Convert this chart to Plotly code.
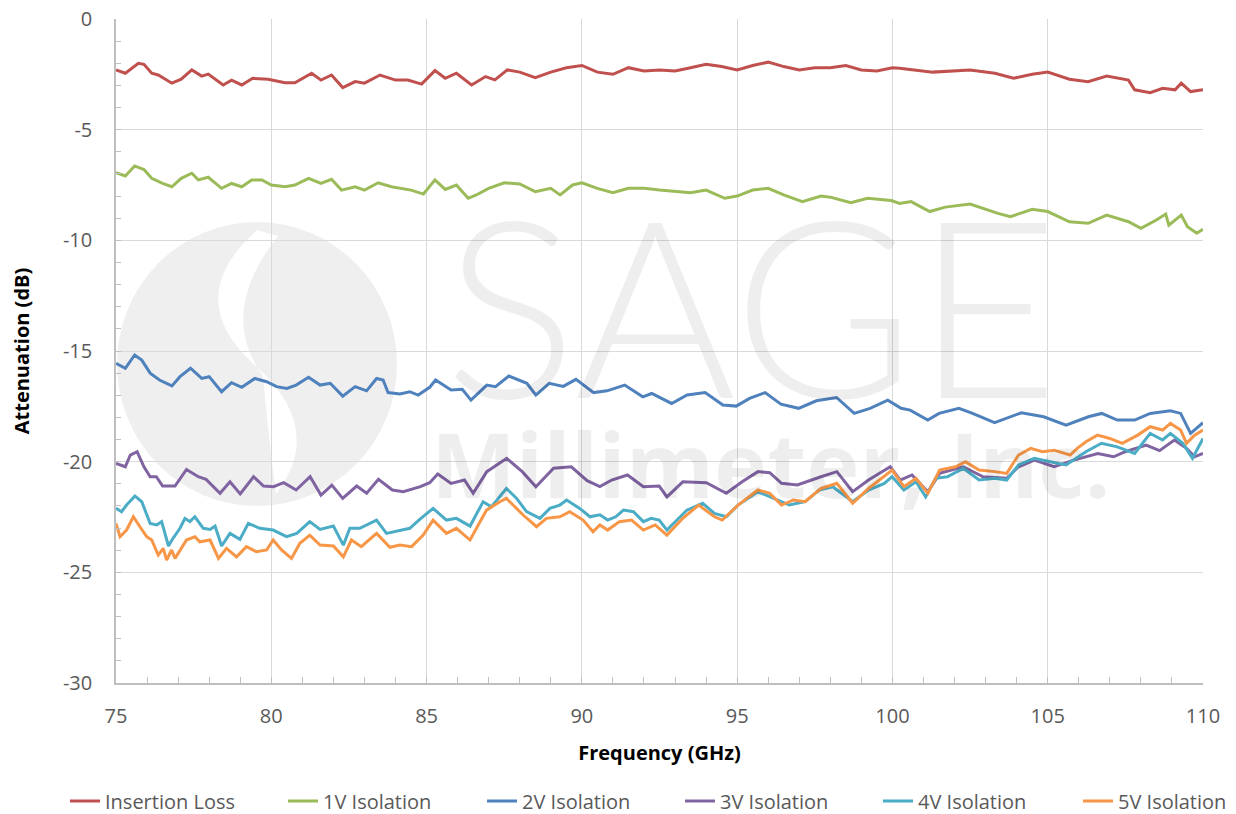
import plotly.graph_objects as go

# ---------------- data ----------------
il_f = [75.0, 75.3, 75.72, 75.9, 76.15, 76.36, 76.8, 77.1, 77.44, 77.76, 77.97, 78.45, 78.72, 79.05, 79.4, 79.9,
        80.44, 80.76, 81.3, 81.6, 81.94, 82.3, 82.7, 83.0, 83.5, 84.0, 84.4, 84.84, 85.27, 85.6, 85.96, 86.45,
        86.9, 87.2, 87.6, 88.0, 88.5, 89.0, 89.5, 90.0, 90.5, 91.0, 91.5, 92.0, 92.5, 93.0, 93.5, 94.0, 94.5,
        95.0, 95.5, 96.0, 96.5, 97.0, 97.5, 98.0, 98.5, 99.0, 99.5, 100.0, 100.23, 100.6, 101.3, 102.5, 103.3,
        103.9, 104.5, 105.0, 105.7, 106.3, 106.9, 107.6, 107.8, 108.3, 108.7, 109.1, 109.3, 109.6, 110.0]
il_db = [-2.3, -2.45, -2.0, -2.05, -2.45, -2.53, -2.9, -2.72, -2.3, -2.58, -2.49, -2.98, -2.76, -2.98, -2.68, -2.72,
         -2.88, -2.88, -2.45, -2.76, -2.53, -3.1, -2.83, -2.9, -2.53, -2.76, -2.76, -2.94, -2.33, -2.68, -2.45, -2.98,
         -2.6, -2.75, -2.3, -2.4, -2.65, -2.4, -2.2, -2.1, -2.4, -2.5, -2.2, -2.35, -2.3, -2.35, -2.2, -2.05, -2.15,
         -2.3, -2.1, -1.95, -2.15, -2.3, -2.2, -2.2, -2.1, -2.3, -2.35, -2.2, -2.23, -2.3, -2.4, -2.3, -2.45,
         -2.68, -2.5, -2.4, -2.72, -2.83, -2.58, -2.76, -3.2, -3.33, -3.13, -3.2, -2.9, -3.28, -3.2]

v1_f = [75.0, 75.3, 75.6, 75.9, 76.15, 76.5, 76.8, 77.1, 77.44, 77.65, 77.97, 78.4, 78.72, 79.05, 79.37, 79.7,
        80.0, 80.44, 80.76, 81.2, 81.6, 81.94, 82.26, 82.7, 83.0, 83.44, 83.87, 84.2, 84.5, 84.9, 85.27, 85.6,
        85.96, 86.34, 86.6, 87.0, 87.5, 88.0, 88.5, 89.0, 89.3, 89.7, 90.0, 90.5, 91.0, 91.5, 92.0, 92.5, 93.0,
        93.5, 94.0, 94.6, 95.0, 95.5, 96.0, 96.5, 97.1, 97.7, 98.0, 98.66, 99.2, 99.96, 100.23, 100.6, 101.2,
        101.7, 102.5, 103.4, 103.8, 104.5, 105.0, 105.7, 106.3, 106.9, 107.6, 108.0, 108.5, 108.8, 108.9, 109.3,
        109.5, 109.8, 110.0]
v1_db = [-6.94, -7.09, -6.64, -6.8, -7.2, -7.43, -7.58, -7.2, -6.97, -7.27, -7.15, -7.65, -7.43, -7.58, -7.27, -7.27,
         -7.5, -7.58, -7.5, -7.2, -7.43, -7.24, -7.73, -7.58, -7.73, -7.4, -7.58, -7.65, -7.73, -7.91, -7.27, -7.7,
         -7.5, -8.1, -7.95, -7.65, -7.4, -7.45, -7.8, -7.65, -7.95, -7.5, -7.4, -7.65, -7.85, -7.65, -7.65, -7.73, -7.8,
         -7.85, -7.73, -8.1, -8.0, -7.73, -7.65, -7.95, -8.25, -8.0, -8.05, -8.3, -8.1, -8.2, -8.33, -8.25, -8.7,
         -8.5, -8.36, -8.78, -8.93, -8.6, -8.7, -9.16, -9.23, -8.86, -9.16, -9.46, -9.08, -8.81, -9.31, -8.86,
         -9.38, -9.68, -9.5]

v2_f = [75.0, 75.3, 75.6, 75.83, 76.1, 76.4, 76.8, 77.06, 77.4, 77.76, 78.0, 78.4, 78.72, 79.05, 79.47, 79.85,
        80.17, 80.5, 80.8, 81.2, 81.57, 81.9, 82.3, 82.7, 83.07, 83.39, 83.6, 83.76, 84.14, 84.46, 84.73, 85.1,
        85.29, 85.79, 86.15, 86.43, 86.94, 87.22, 87.65, 88.23, 88.52, 88.95, 89.4, 89.81, 90.38, 90.81, 91.38,
        91.96, 92.25, 92.89, 93.39, 93.97, 94.54, 94.97, 95.4, 95.9, 96.41, 96.98, 97.55, 98.2, 98.77, 99.28,
        99.85, 100.28, 100.57, 101.14, 101.5, 102.14, 102.58, 103.29, 104.15, 104.87, 105.59, 106.31, 106.74,
        107.24, 107.8, 108.3, 108.95, 109.28, 109.6, 110.0]
v2_db = [-15.56, -15.78, -15.18, -15.41, -16.0, -16.31, -16.58, -16.16, -15.78, -16.24, -16.16, -16.84, -16.43,
         -16.64, -16.24, -16.39, -16.61, -16.69, -16.54, -16.19, -16.54, -16.46, -17.04, -16.61, -16.8, -16.24,
         -16.31, -16.88, -16.94, -16.84, -16.99, -16.64, -16.31, -16.76, -16.73, -17.22, -16.54, -16.61, -16.13,
         -16.46, -16.99, -16.46, -16.6, -16.28, -16.88, -16.8, -16.54, -17.07, -16.92, -17.37, -16.99, -16.88,
         -17.44, -17.49, -17.14, -16.88, -17.4, -17.59, -17.25, -17.1, -17.82, -17.59, -17.22, -17.59, -17.67,
         -18.12, -17.82, -17.59, -17.82, -18.24, -17.79, -17.97, -18.35, -17.97, -17.82, -18.12, -18.12, -17.82,
         -17.7, -17.82, -18.72, -18.24]

v3_f = [75.0, 75.3, 75.46, 75.68, 75.9, 76.1, 76.3, 76.5, 76.9, 77.27, 77.65, 77.9, 78.35, 78.67, 79.0, 79.43,
        79.75, 80.07, 80.4, 80.8, 81.25, 81.6, 81.95, 82.3, 82.75, 83.07, 83.45, 83.9, 84.25, 84.8, 85.1, 85.36,
        85.79, 86.22, 86.5, 86.94, 87.58, 88.08, 88.52, 89.09, 89.66, 90.17, 90.58, 90.96, 91.47, 91.98, 92.49,
        92.74, 93.25, 94.01, 94.65, 95.16, 95.67, 96.05, 96.43, 96.94, 97.7, 98.21, 98.72, 99.23, 99.93, 100.25,
        100.63, 101.14, 101.52, 102.28, 102.92, 103.68, 104.06, 104.57, 105.21, 105.84, 106.61, 107.12, 107.5,
        108.17, 108.6, 109.08, 109.47, 109.73, 110.0]
v3_db = [-20.08, -20.23, -19.7, -19.55, -20.23, -20.68, -20.68, -21.1, -21.1, -20.35, -20.68, -20.8, -21.43, -20.91,
         -21.46, -20.68, -21.1, -21.13, -20.95, -21.28, -20.68, -21.51, -21.06, -21.66, -21.1, -21.43, -20.8, -21.28,
         -21.36, -21.13, -20.95, -20.56, -20.98, -20.83, -21.43, -20.45, -19.85, -20.45, -21.13, -20.3, -20.23,
         -20.86, -21.13, -20.83, -20.6, -21.13, -21.1, -21.59, -20.91, -20.95, -21.43, -20.91, -20.45, -20.5,
         -20.98, -21.05, -20.68, -20.45, -21.36, -20.83, -20.23, -20.83, -20.6, -21.36, -20.53, -20.23, -20.68,
         -20.75, -20.23, -19.93, -20.23, -19.93, -19.63, -19.78, -19.55, -19.25, -19.5, -19.02, -19.4, -19.78, -19.63]

v4_f = [75.0, 75.18, 75.34, 75.61, 75.83, 76.1, 76.31, 76.47, 76.69, 76.8, 77.06, 77.22, 77.38, 77.54, 77.81,
        78.03, 78.19, 78.4, 78.67, 78.99, 79.26, 79.63, 80.06, 80.49, 80.82, 81.24, 81.57, 82.0, 82.32, 82.53,
        82.85, 83.39, 83.71, 84.14, 84.46, 84.78, 85.21, 85.64, 85.96, 86.4, 86.82, 87.09, 87.57, 87.9, 88.22,
        88.65, 88.97, 89.29, 89.51, 89.93, 90.26, 90.58, 90.83, 91.09, 91.34, 91.66, 91.98, 92.23, 92.49, 92.74,
        93.12, 93.38, 93.89, 94.27, 94.65, 95.03, 95.67, 96.18, 96.68, 97.19, 97.64, 98.08, 98.72, 99.23, 99.74,
        99.99, 100.37, 100.76, 101.07, 101.39, 101.77, 102.28, 102.79, 103.3, 103.68, 104.06, 104.57, 105.08,
        105.59, 106.23, 106.73, 107.24, 107.8, 108.3, 108.7, 108.95, 109.35, 109.66, 109.85, 110.0]
v4_db = [-22.11, -22.26, -21.96, -21.55, -21.81, -22.79, -22.86, -22.71, -23.81, -23.54, -23.01, -22.56, -22.71,
         -22.49, -23.01, -23.06, -22.91, -23.81, -23.24, -23.51, -22.79, -23.01, -23.09, -23.39, -23.24, -22.71,
         -23.06, -22.91, -23.77, -23.01, -23.01, -22.64, -23.24, -23.09, -23.01, -22.61, -22.11, -22.64, -22.56,
         -22.91, -21.81, -22.04, -21.21, -21.66, -22.26, -22.56, -22.11, -21.96, -21.73, -22.11, -22.49, -22.4,
         -22.64, -22.49, -22.19, -22.26, -22.71, -22.56, -22.64, -23.09, -22.56, -22.19, -21.88, -22.34, -22.49,
         -21.96, -21.36, -21.66, -21.96, -21.81, -21.28, -21.13, -21.81, -21.28, -20.98, -20.68, -21.28, -20.91,
         -21.59, -20.75, -20.68, -20.3, -20.83, -20.75, -20.83, -20.15, -19.85, -20.0, -20.15, -19.55, -19.17,
         -19.33, -19.63, -18.72, -19.02, -18.72, -19.17, -19.85, -19.33, -18.95]

v5_f = [75.0, 75.13, 75.34, 75.56, 75.77, 75.99, 76.15, 76.36, 76.52, 76.63, 76.79, 76.9, 77.27, 77.54, 77.7,
        78.03, 78.3, 78.56, 78.88, 79.2, 79.52, 79.85, 80.06, 80.33, 80.65, 80.92, 81.24, 81.57, 82.0, 82.32,
        82.58, 82.9, 83.39, 83.82, 84.14, 84.52, 84.89, 85.21, 85.64, 85.96, 86.4, 86.93, 87.36, 87.57, 88.11,
        88.54, 88.86, 89.29, 89.61, 90.04, 90.36, 90.58, 90.83, 91.21, 91.6, 91.98, 92.36, 92.74, 93.25, 93.76,
        94.27, 94.52, 95.03, 95.67, 96.05, 96.43, 96.81, 97.19, 97.7, 98.21, 98.72, 99.23, 99.99, 100.37, 100.76,
        101.14, 101.52, 102.03, 102.35, 102.79, 103.3, 103.68, 104.06, 104.45, 104.83, 105.21, 105.72, 105.95,
        106.23, 106.6, 107.0, 107.4, 107.9, 108.3, 108.7, 108.95, 109.28, 109.47, 109.73, 110.0]
v5_db = [-22.79, -23.39, -23.09, -22.49, -22.94, -23.39, -23.54, -24.22, -23.92, -24.45, -23.99, -24.37, -23.54,
         -23.39, -23.62, -23.54, -24.37, -23.92, -24.3, -23.84, -24.07, -23.99, -23.54, -23.99, -24.37, -23.69,
         -23.32, -23.77, -23.81, -24.3, -23.54, -23.84, -23.24, -23.87, -23.77, -23.84, -23.32, -22.64, -23.24,
         -23.01, -23.54, -22.19, -21.81, -21.66, -22.41, -22.94, -22.56, -22.49, -22.26, -22.64, -23.17, -22.86,
         -23.09, -22.71, -22.64, -23.09, -22.86, -23.32, -22.56, -21.96, -22.49, -22.64, -21.96, -21.28, -21.43,
         -21.96, -21.73, -21.81, -21.21, -20.98, -21.88, -21.21, -20.38, -21.13, -20.75, -21.43, -20.38, -20.23,
         -20.0, -20.38, -20.45, -20.53, -19.7, -19.4, -19.55, -19.48, -19.7, -19.4, -19.1, -18.8, -18.95, -19.17,
         -18.8, -18.42, -18.57, -18.27, -18.57, -19.17, -18.8, -18.57]

series_names = ["Insertion Loss", "1V Isolation", "2V Isolation", "3V Isolation", "4V Isolation", "5V Isolation"]
series_x = [il_f, v1_f, v2_f, v3_f, v4_f, v5_f]
series_y = [il_db, v1_db, v2_db, v3_db, v4_db, v5_db]

x_ticks = [75, 80, 85, 90, 95, 100, 105, 110]
y_ticks = [0, -5, -10, -15, -20, -25, -30]

# ---------------- styles ----------------
series_colors = ["#C0504D", "#9BBB59", "#4F81BD", "#8064A2", "#4BACC6", "#F79646"]
legend_text_widths = [173, 154, 153, 153, 155, 115]

# ---------------- layout geometry ----------------
# the page body has an 8px default margin, so the figure starts at (8, 8) in the window
OFF = 8
W, H = 1228, 822
PL, PR, PT, PB = 116, 1203, 19, 683          # plot area in window pixels
L, T = PL - OFF, PT - OFF
R = W - (PR - OFF)
B = H - (PB - OFF)
PW, PH = PR - PL, PB - PT


def px(x):
    return (x - PL) / PW


def py(y):
    return (PB - y) / PH


def P(x, y):
    return f"{px(x):.5f},{py(y):.5f}"


fig = go.Figure()
for name, xs, ys, col, lw in zip(series_names, series_x, series_y, series_colors, legend_text_widths):
    fig.add_trace(go.Scatter(x=xs, y=ys, name=name, mode="lines", legendwidth=lw,
                             line=dict(color=col, width=3), hoverinfo="x+y+name"))

# watermark logo (light grey disc with white S-curve)
shapes = [
    dict(type="circle", xref="paper", yref="paper", layer="below",
         x0=px(117), x1=px(397), y0=py(506), y1=py(222),
         fillcolor="#efefef", line=dict(width=0)),
    dict(type="path", xref="paper", yref="paper", layer="below",
         path=("M " + P(257, 230) + " Q " + P(179, 300) + " " + P(258, 368)
               + " Q " + P(325, 430) + " " + P(276, 494)
               + " Q " + P(268, 432) + " " + P(263, 376)
               + " Q " + P(217, 313) + " " + P(278, 236) + " Z"),
         fillcolor="#ffffff", line=dict(width=0)),
]

annotations = [
    dict(text="SAGE", xref="paper", yref="paper", x=px(752), y=py(302), xanchor="center", yanchor="middle",
         showarrow=False, font=dict(family="Lato", size=248, color="rgba(0,0,0,0.065)", weight=300)),
    dict(text="Millimeter, Inc.", xref="paper", yref="paper", x=px(770), y=py(463), xanchor="center",
         yanchor="middle", showarrow=False,
         font=dict(family="Open Sans", size=90, color="rgba(0,0,0,0.065)", weight=700)),
]

axis_font = dict(family="Open Sans", size=20, color="#595959")
title_font = dict(family="Open Sans", size=20, color="#000000", weight=700)

fig.update_layout(
    width=W, height=H,
    margin=dict(l=L, r=R, t=T, b=B, pad=0, autoexpand=False),
    paper_bgcolor="white", plot_bgcolor="white",
    shapes=shapes, annotations=annotations,
    showlegend=True,
    legend=dict(orientation="h", x=px(65), xanchor="left", y=py(801), yanchor="middle",
                font=dict(family="Open Sans", size=20, color="#595959"),
                itemwidth=30, tracegroupgap=0, bgcolor="rgba(0,0,0,0)"),
    xaxis=dict(range=[75, 110], tickvals=x_ticks, ticktext=[str(v) for v in x_ticks],
               showgrid=True, gridcolor="#d9d9d9", gridwidth=1,
               showline=True, linecolor="#bfbfbf", linewidth=1.5,
               ticks="inside", ticklen=6, tickcolor="#bfbfbf",
               minor=dict(dtick=1, ticks="inside", ticklen=6, tickcolor="#bfbfbf", showgrid=False),
               zeroline=False, tickfont=axis_font, ticklabelstandoff=14, automargin=False,
               ticklabeloverflow="allow",
               title=dict(text="Frequency (GHz)", font=title_font, standoff=18)),
    yaxis=dict(range=[-30, 0], tickvals=y_ticks, ticktext=[str(v) for v in y_ticks],
               showgrid=True, gridcolor="#d9d9d9", gridwidth=1,
               showline=True, linecolor="#bfbfbf", linewidth=1.5,
               ticks="inside", ticklen=5, tickcolor="#bfbfbf",
               minor=dict(dtick=1, ticks="inside", ticklen=5, tickcolor="#bfbfbf", showgrid=False),
               zeroline=False, tickfont=axis_font, ticklabelstandoff=18, automargin=False,
               ticklabeloverflow="allow",
               title=dict(text="Attenuation (dB)", font=title_font, standoff=38)),
)

fig.write_html("out.html")
